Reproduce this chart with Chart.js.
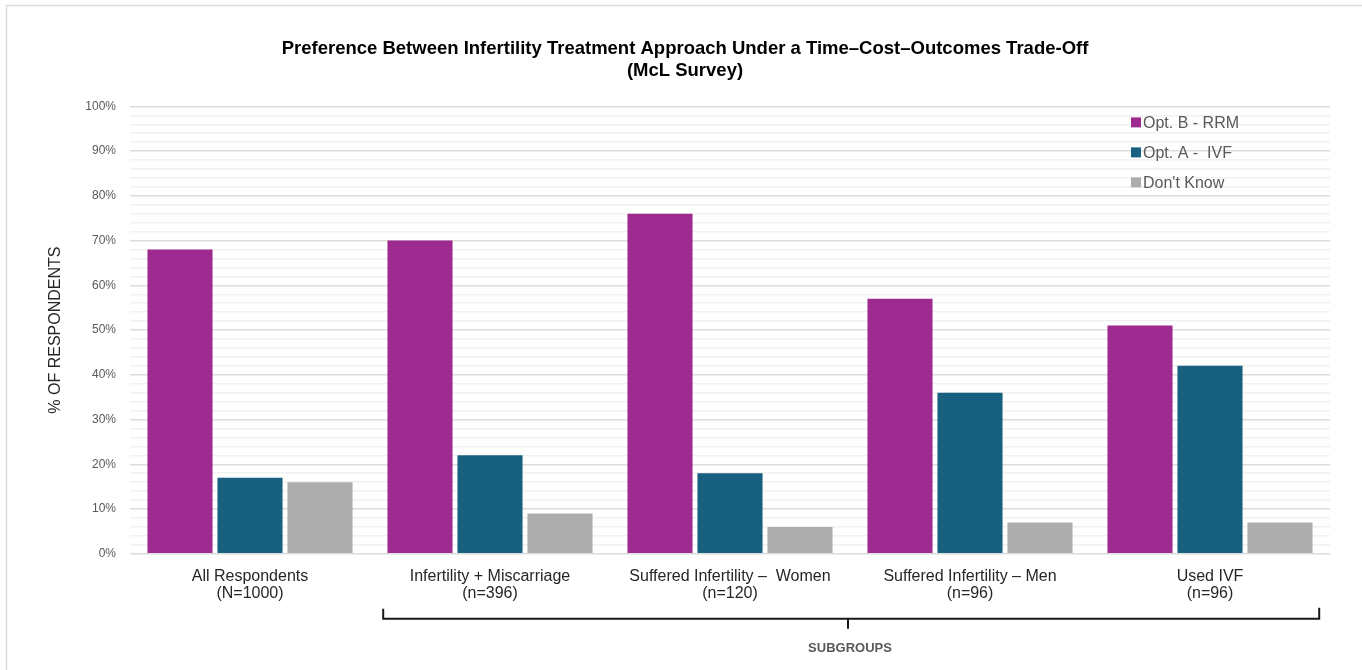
<!DOCTYPE html>
<html>
<head>
<meta charset="utf-8">
<title>Preference Between Infertility Treatment Approach</title>
<script src="https://cdn.jsdelivr.net/npm/chart.js@4.4.1/dist/chart.umd.min.js"></script>
<style>
  html, body { margin: 0; padding: 0; background: #ffffff; }
  #wrap { position: relative; width: 1362px; height: 670px; }
</style>
</head>
<body>
<div id="wrap"><canvas id="chart"></canvas></div>
<script>
// Respondent groups (two-line axis labels)
const groups = [
  ['All Respondents', '(N=1000)'],
  ['Infertility + Miscarriage', '(n=396)'],
  ['Suffered Infertility \u2013  Women', '(n=120)'],
  ['Suffered Infertility \u2013 Men', '(n=96)'],
  ['Used IVF', '(n=96)']
];

// Share of respondents (%) per option
const optB_RRM = [68, 70, 76, 57, 51];
const optA_IVF = [17, 22, 18, 36, 42];
const dontKnow = [16, 9, 6, 7, 7];

const seriesNames = ['Opt. B - RRM', 'Opt. A -  IVF', "Don't Know"];
const seriesColors = ['#9E2A90', '#17607F', '#ADADAD'];

const yTicks = [0, 10, 20, 30, 40, 50, 60, 70, 80, 90, 100];

const FONT = '"Liberation Sans", Arial, Helvetica, sans-serif';

// Light frame along the top and left edges
const framePlugin = {
  id: 'frame',
  beforeDraw(chart) {
    const c = chart.ctx;
    c.save();
    c.strokeStyle = '#dcdcdc';
    c.lineWidth = 1.5;
    c.beginPath();
    c.moveTo(6.5, chart.height);
    c.lineTo(6.5, 5.5);
    c.lineTo(chart.width, 5.5);
    c.stroke();
    c.restore();
  }
};

// Vertical legend inside the plot, top right
const insideLegend = {
  id: 'insideLegend',
  afterDraw(chart) {
    const c = chart.ctx;
    const x = chart.chartArea.right - 199;
    const y0 = chart.chartArea.top + 16;
    c.save();
    c.font = '16px ' + FONT;
    c.textBaseline = 'middle';
    chart.data.datasets.forEach((ds, i) => {
      const y = y0 + i * 30;
      c.fillStyle = ds.backgroundColor;
      c.fillRect(x, y - 5, 10, 10);
      c.fillStyle = '#595959';
      c.fillText(ds.label, x + 12, y + 1);
    });
    c.restore();
  }
};

// Bracket grouping the subgroup categories, with its caption
const subgroupBracket = {
  id: 'subgroupBracket',
  afterDraw(chart) {
    const xs = chart.scales.x;
    const c = chart.ctx;
    const cat = xs.getPixelForValue(2) - xs.getPixelForValue(1);
    const left = xs.getPixelForValue(1) - 0.445 * cat;
    const right = xs.getPixelForValue(groups.length - 1) + 0.455 * cat;
    const mid = (xs.getPixelForValue(2) + xs.getPixelForValue(3)) / 2 - 2;
    const yLine = chart.chartArea.bottom + 65;
    c.save();
    c.strokeStyle = '#1a1a1a';
    c.lineWidth = 2;
    c.beginPath();
    c.moveTo(left, yLine - 10);
    c.lineTo(left, yLine);
    c.lineTo(right, yLine);
    c.lineTo(right, yLine - 11);
    c.moveTo(mid, yLine);
    c.lineTo(mid, yLine + 10);
    c.stroke();
    c.fillStyle = '#595959';
    c.font = 'bold 13px ' + FONT;
    c.textAlign = 'center';
    c.textBaseline = 'middle';
    c.fillText('SUBGROUPS', mid + 2, yLine + 30);
    c.restore();
  }
};

new Chart(document.getElementById('chart'), {
  type: 'bar',
  data: {
    labels: groups,
    datasets: [
      { label: seriesNames[0], data: optB_RRM, backgroundColor: seriesColors[0] },
      { label: seriesNames[1], data: optA_IVF, backgroundColor: seriesColors[1] },
      { label: seriesNames[2], data: dontKnow, backgroundColor: seriesColors[2] }
    ]
  },
  options: {
    responsive: true,
    maintainAspectRatio: false,
    animation: false,
    layout: { padding: { left: 40, right: 32, top: 24, bottom: 62 } },
    datasets: {
      bar: { categoryPercentage: 0.875, barPercentage: 0.93 }
    },
    plugins: {
      legend: { display: false },
      tooltip: { enabled: false },
      title: {
        display: true,
        text: ['Preference Between Infertility Treatment Approach Under a Time\u2013Cost\u2013Outcomes Trade-Off', '(McL Survey)'],
        color: '#000000',
        font: { family: FONT, size: 18.5, weight: 'bold', lineHeight: 1.2 },
        padding: { top: 14, bottom: 24 }
      }
    },
    scales: {
      x: {
        grid: { display: false },
        border: { display: false },
        ticks: {
          color: '#262626',
          font: { family: FONT, size: 16, lineHeight: 1.07 },
          maxRotation: 0,
          autoSkip: false,
          padding: 6
        }
      },
      y: {
        min: 0,
        max: 100,
        border: { display: false },
        afterFit(scale) { scale.width = 90; },
        afterBuildTicks(scale) {
          const t = [];
          for (let v = 0; v <= 100; v += 2) t.push({ value: v });
          scale.ticks = t;
        },
        grid: {
          drawTicks: false,
          color(ctx) {
            const v = ctx.tick ? ctx.tick.value : 0;
            return yTicks.includes(v) ? '#dcdcdc' : '#f1f1f1';
          },
          lineWidth: 1.5
        },
        ticks: {
          autoSkip: false,
          color: '#595959',
          font: { family: FONT, size: 12 },
          padding: 14,
          // minor steps keep their grid line but show no label
          callback(v) { return yTicks.includes(v) ? v + '%' : ''; }
        },
        title: {
          display: true,
          text: '% OF RESPONDENTS',
          color: '#262626',
          font: { family: FONT, size: 16 },
          padding: { top: 6, bottom: 0 }
        }
      }
    }
  },
  plugins: [framePlugin, insideLegend, subgroupBracket]
});
</script>
</body>
</html>
